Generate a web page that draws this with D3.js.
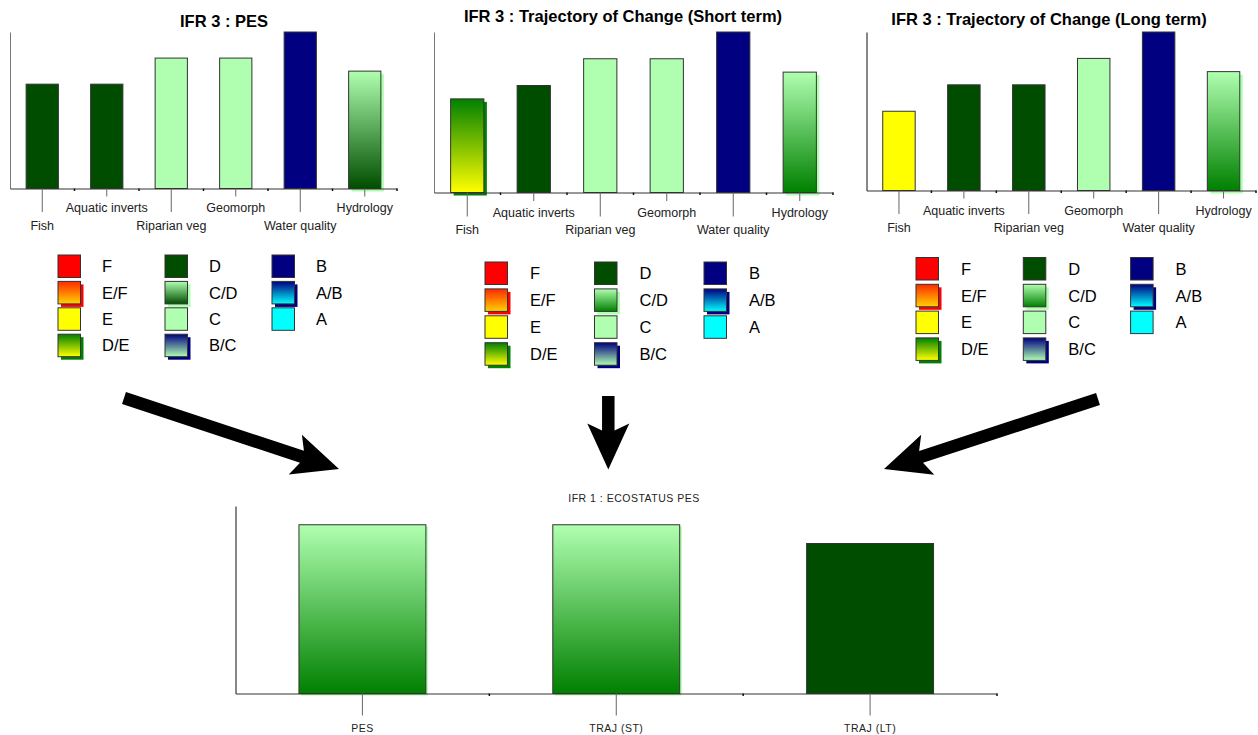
<!DOCTYPE html>
<html>
<head>
<meta charset="utf-8">
<script src="https://cdn.jsdelivr.net/npm/d3@7"></script>
<style>
  body { margin: 0; background: #fff; }
  svg { display: block; font-family: "Liberation Sans", Arial, sans-serif; }
</style>
</head>
<body>
<svg id="chart" width="1258" height="735"></svg>
<script>
// ---- Data -------------------------------------------------------------
const components = ["Fish", "Aquatic inverts", "Riparian veg", "Geomorph", "Water quality", "Hydrology"];
const pesCategories = ["D", "D", "C", "C", "B", "C/D"];
const trajShortCategories = ["D/E", "D", "C", "C", "B", "C/D"];
const trajLongCategories = ["E", "D", "D", "C", "B", "C/D"];

const ecostatusLabels = ["PES", "TRAJ (ST)", "TRAJ (LT)"];
const ecostatusCategories = ["C/D", "C/D", "D"];

// Ecological categories (worst to best) and the bar height used for each
const categoryOrder = ["F", "E/F", "E", "D/E", "D", "C/D", "C", "B/C", "B", "A/B", "A"];
const categoryScore = [4, 5, 6, 7, 8, 9, 10, 11, 12, 13, 14];
const score = c => categoryScore[categoryOrder.indexOf(c)];

// ---- Styling ----------------------------------------------------------
const solidFill = { "F": "#ff0000", "E": "#ffff00", "D": "#004d00", "C": "#b0ffb0", "B": "#000080", "A": "#00ffff" };
const gradientFill = {
  "E/F": { top: "#ff2a00", bottom: "#ffd200", shadow: "#ff0000" },
  "D/E": { top: "#008000", bottom: "#ffff00", shadow: "#008000" },
  "C/D": { top: "#b0ffb0", bottom: "#008000", shadow: "#b0ffb0" },
  "B/C": { top: "#000080", bottom: "#b0ffb0", shadow: "#000080" },
  "A/B": { top: "#000080", bottom: "#00ffff", shadow: "#000080" }
};

const svg = d3.select("#chart");
const defs = svg.append("defs");
const FONT = '"Liberation Sans", Arial, sans-serif';

function makeGradients(prefix, cdBottom) {
  Object.entries(gradientFill).forEach(([cat, g]) => {
    const bottom = (cat === "C/D" && cdBottom) ? cdBottom : g.bottom;
    const lg = defs.append("linearGradient")
      .attr("id", gradId(prefix, cat))
      .attr("x1", 0).attr("y1", 0).attr("x2", 0).attr("y2", 1);
    lg.append("stop").attr("offset", "0%").attr("stop-color", g.top);
    lg.append("stop").attr("offset", "100%").attr("stop-color", bottom);
  });
}
function gradId(prefix, cat) { return prefix + "-g-" + cat.replace("/", ""); }

// Draws one filled box (bar or legend swatch) in the style of its category
function drawBox(g, prefix, cat, bx, by, bw, bh, shadowOffset) {
  if (gradientFill[cat]) {
    g.append("rect")
      .attr("x", bx + shadowOffset).attr("y", by + shadowOffset)
      .attr("width", bw).attr("height", bh)
      .attr("fill", gradientFill[cat].shadow);
    g.append("rect")
      .attr("x", bx).attr("y", by).attr("width", bw).attr("height", bh)
      .attr("fill", `url(#${gradId(prefix, cat)})`)
      .attr("stroke", "#333").attr("stroke-width", 1);
  } else {
    g.append("rect")
      .attr("x", bx).attr("y", by).attr("width", bw).attr("height", bh)
      .attr("fill", solidFill[cat])
      .attr("stroke", "#333").attr("stroke-width", 1);
  }
}

function drawBarChart(cfg) {
  const g = svg.append("g");
  makeGradients(cfg.id, cfg.cdBottom);

  const x = d3.scaleBand().domain(cfg.labels).range([cfg.x0, cfg.x1])
    .paddingInner(0.5).paddingOuter(0.25);
  const y = d3.scaleLinear().domain([0, cfg.yMax]).range([cfg.yBase, cfg.yTop]);

  // title
  g.append("text")
    .attr("x", cfg.titleX).attr("y", cfg.titleY)
    .attr("text-anchor", "middle")
    .attr("font-family", FONT)
    .attr("font-size", cfg.titleSize)
    .attr("font-weight", cfg.titleWeight)
    .attr("letter-spacing", cfg.titleSpacing || 0)
    .attr("fill", cfg.titleColor)
    .text(cfg.title);

  // bars
  const barG = g.append("g");
  cfg.labels.forEach((lab, i) => {
    const cat = cfg.values[i];
    const v = score(cat);
    drawBox(barG, cfg.id, cat, x(lab), y(v), x.bandwidth(), y(0) - y(v), cfg.shadowOffset);
  });

  // y axis (line only)
  g.append("g")
    .attr("transform", `translate(${cfg.x0},0)`)
    .call(d3.axisLeft(y).tickValues([]).tickSizeOuter(0))
    .call(a => a.select(".domain").attr("stroke", cfg.yAxisColor).attr("stroke-width", 1));

  // x axis with staggered category labels
  const xa = g.append("g")
    .attr("transform", `translate(0,${cfg.yBase})`)
    .call(d3.axisBottom(x).tickSizeOuter(0));
  xa.select(".domain").attr("stroke", "#333").attr("stroke-width", 1);
  xa.selectAll(".tick line")
    .attr("stroke", "#666")
    .attr("y2", (d, i) => (cfg.stagger && i % 2 === 1) ? cfg.tickNear : cfg.tickFar);
  xa.selectAll(".tick text")
    .attr("font-family", FONT)
    .attr("font-size", cfg.labelSize)
    .attr("letter-spacing", cfg.labelSpacing || 0)
    .attr("fill", "#222")
    .attr("dy", 0)
    .attr("y", (d, i) => (cfg.stagger && i % 2 === 1) ? cfg.labelNear : cfg.labelFar);

  // small ticks at the category boundaries
  const first = x(cfg.labels[0]) + x.bandwidth() / 2 - x.step() / 2;
  g.append("g").selectAll("line")
    .data(d3.range(1, cfg.labels.length + 1))
    .join("line")
    .attr("x1", i => first + i * x.step()).attr("x2", i => first + i * x.step())
    .attr("y1", cfg.yBase).attr("y2", cfg.yBase + 2.5)
    .attr("stroke", "#111").attr("stroke-width", 1.5);

  // legend of ecological categories
  if (cfg.legend) {
    const lg = g.append("g");
    const L = cfg.legend;
    categoryOrder.forEach((cat, j) => {
      const col = Math.floor(j / 4), row = j % 4;
      const sx = L.x + col * L.colStep, sy = L.y + row * L.rowStep;
      drawBox(lg, cfg.id, cat, sx, sy, L.size, L.size, 3);
      lg.append("text")
        .attr("x", sx + L.textDx).attr("y", sy + L.size / 2 + 6)
        .attr("font-family", FONT).attr("font-size", 16.5)
        .attr("fill", "#000")
        .text(cat);
    });
  }
}

// ---- Three IFR 3 component charts ---------------------------------------
drawBarChart({
  id: "pes", title: "IFR 3 : PES", labels: components, values: pesCategories,
  x0: 10, x1: 397, yTop: 32, yBase: 188.5, yMax: 12,
  titleX: 224, titleY: 26.5, titleSize: 16.5, titleWeight: "bold", titleColor: "#000",
  cdBottom: "#004d00", shadowOffset: 3, yAxisColor: "#777",
  stagger: true, tickNear: 8, tickFar: 23.5, labelNear: 23.5, labelFar: 41.5, labelSize: 12.5,
  legend: { x: 58, y: 255, colStep: 107, rowStep: 26.4, size: 22.5, textDx: 44 }
});
drawBarChart({
  id: "trajst", title: "IFR 3 : Trajectory of Change (Short term)", labels: components, values: trajShortCategories,
  x0: 434, x1: 833, yTop: 32, yBase: 192.5, yMax: 12,
  titleX: 623, titleY: 22, titleSize: 16.5, titleWeight: "bold", titleColor: "#000",
  shadowOffset: 3, yAxisColor: "#777",
  stagger: true, tickNear: 8.5, tickFar: 24, labelNear: 24, labelFar: 41.5, labelSize: 12.5,
  legend: { x: 485, y: 262, colStep: 109.5, rowStep: 26.9, size: 22.5, textDx: 45 }
});
drawBarChart({
  id: "trajlt", title: "IFR 3 : Trajectory of Change (Long term)", labels: components, values: trajLongCategories,
  x0: 866.5, x1: 1256, yTop: 32, yBase: 190.5, yMax: 12,
  titleX: 1049, titleY: 25, titleSize: 16.5, titleWeight: "bold", titleColor: "#000",
  shadowOffset: 3, yAxisColor: "#111",
  stagger: true, tickNear: 8, tickFar: 23.5, labelNear: 24.5, labelFar: 41.5, labelSize: 12.5,
  legend: { x: 916, y: 257.5, colStep: 107.3, rowStep: 26.8, size: 22.5, textDx: 45 }
});

// ---- IFR 1 overall ecostatus chart ----------------------------------------
drawBarChart({
  id: "eco", title: "IFR 1 : ECOSTATUS PES", labels: ecostatusLabels, values: ecostatusCategories,
  x0: 235.5, x1: 997, yTop: 506, yBase: 693.5, yMax: 10,
  titleX: 634, titleY: 502, titleSize: 10.5, titleWeight: "normal", titleColor: "#222", titleSpacing: 0.5,
  shadowOffset: 2, yAxisColor: "#111",
  stagger: false, tickNear: 22, tickFar: 22, labelNear: 38.5, labelFar: 38.5, labelSize: 10.5, labelSpacing: 0.5
});

// ---- Arrows linking the component charts to the overall status ---------
const arrows = [
  { tail: [124, 398], tip: [339, 469] },
  { tail: [608.3, 396], tip: [608.3, 469.5] },
  { tail: [1098, 399], tip: [884, 469] }
];
const shaftW = 12.5, headLen = 46, headHalf = 21, notch = 7;
arrows.forEach(a => {
  const [tx, ty] = a.tail, [px, py] = a.tip;
  const len = Math.hypot(px - tx, py - ty);
  const ux = (px - tx) / len, uy = (py - ty) / len;
  const nx = -uy, ny = ux;
  const at = (d, w) => [px - ux * d + nx * w, py - uy * d + ny * w];
  const pts = [
    [tx + nx * shaftW / 2, ty + ny * shaftW / 2],
    at(headLen - notch, shaftW / 2),
    at(headLen, headHalf),
    [px, py],
    at(headLen, -headHalf),
    at(headLen - notch, -shaftW / 2),
    [tx - nx * shaftW / 2, ty - ny * shaftW / 2]
  ];
  svg.append("path")
    .attr("d", d3.line()(pts) + "Z")
    .attr("fill", "#000");
});
</script>
</body>
</html>
